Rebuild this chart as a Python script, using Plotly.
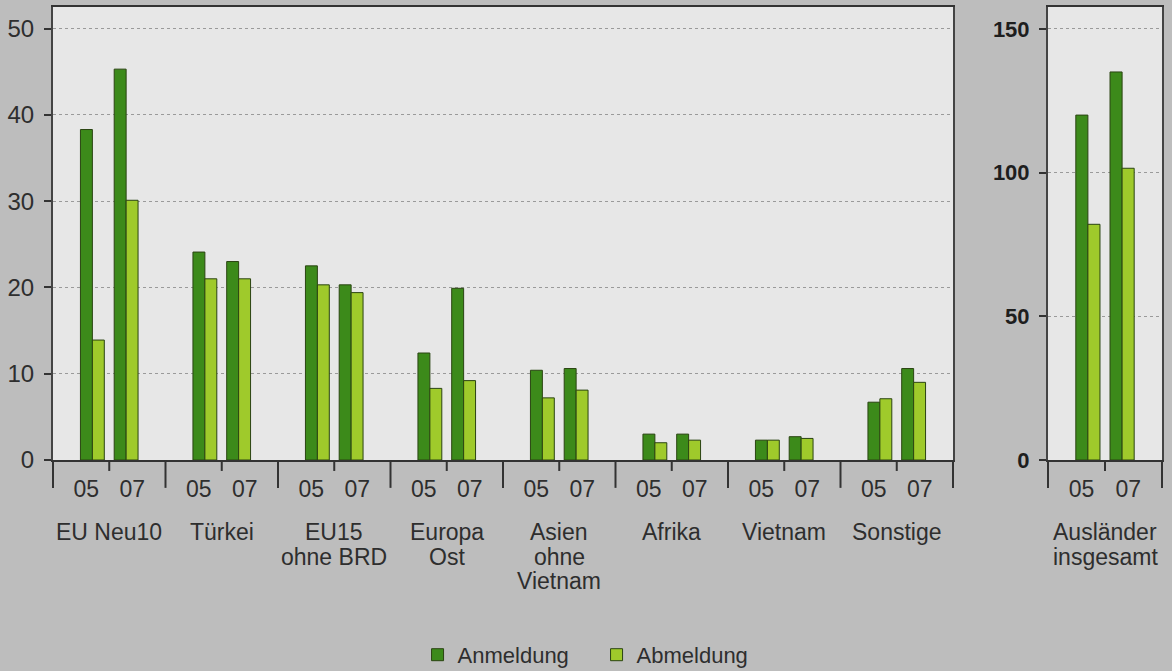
import plotly.graph_objects as go

# ---------------- data ----------------
groups = ["EU Neu10", "Türkei", "EU15<br>ohne BRD", "Europa<br>Ost",
          "Asien<br>ohne<br>Vietnam", "Afrika", "Vietnam", "Sonstige"]
years = ["05", "07"]
anm_05 = [38.3, 24.1, 22.5, 12.4, 10.4, 3.0, 2.3, 6.7]
anm_07 = [45.3, 23.0, 20.3, 19.9, 10.6, 3.0, 2.7, 10.6]
abm_05 = [13.9, 21.0, 20.3, 8.3, 7.2, 2.0, 2.3, 7.1]
abm_07 = [30.1, 21.0, 19.4, 9.2, 8.1, 2.3, 2.5, 9.0]

total_label = "Ausländer<br>insgesamt"
total_anm = [120.0, 135.0]   # 05, 07
total_abm = [82.0, 101.5]

series_names = ["Anmeldung", "Abmeldung"]
y_ticks_left = [0, 10, 20, 30, 40, 50]
y_ticks_right = [0, 50, 100, 150]

# ---------------- style ----------------
C_ANM = "#3c8a1a"
C_ABM = "#9fca2b"
C_EDGE = "#2a4412"
TXT = "#2e2e2e"
FONT = "Liberation Sans"
FS = 23
PAIR_OFF = 0.15     # offset of each year pair from group centre (axis units)
BAR_W = 0.106       # width of a single bar (axis units)
LABEL_OFF = 0.205   # offset of 05/07 labels from group centre

n = len(groups)
fig = go.Figure()

def pair_positions(count):
    p05 = [i + 0.5 - PAIR_OFF for i in range(count)]
    p07 = [i + 0.5 + PAIR_OFF for i in range(count)]
    return p05, p07

p05, p07 = pair_positions(n)
x_left = p05 + p07
anm_left = anm_05 + anm_07
abm_left = abm_05 + abm_07

fig.add_trace(go.Bar(x=x_left, y=anm_left, width=BAR_W, offset=-BAR_W,
                     marker=dict(color=C_ANM, line=dict(color=C_EDGE, width=1)),
                     name=series_names[0], xaxis="x", yaxis="y"))
fig.add_trace(go.Bar(x=x_left, y=abm_left, width=BAR_W, offset=0,
                     marker=dict(color=C_ABM, line=dict(color=C_EDGE, width=1)),
                     name=series_names[1], xaxis="x", yaxis="y"))

t05, t07 = pair_positions(1)
fig.add_trace(go.Bar(x=t05 + t07, y=total_anm, width=BAR_W, offset=-BAR_W,
                     marker=dict(color=C_ANM, line=dict(color=C_EDGE, width=1)),
                     name=series_names[0], showlegend=False, xaxis="x2", yaxis="y2"))
fig.add_trace(go.Bar(x=t05 + t07, y=total_abm, width=BAR_W, offset=0,
                     marker=dict(color=C_ABM, line=dict(color=C_EDGE, width=1)),
                     name=series_names[1], showlegend=False, xaxis="x2", yaxis="y2"))

# ---------------- axes ----------------
W, H = 1172, 671
ML, MR, MT, MB = 53, 10, 5, 211
PW = W - ML - MR
PH = H - MT - MB
left_dom = [0, 900 / PW]
right_dom = [(1048 - ML) / PW, 1]

def year_ticks(count):
    vals, texts = [], []
    for i in range(count):
        vals += [i + 0.5 - LABEL_OFF, i + 0.5 + LABEL_OFF]
        texts += years
    return vals, texts

lv, lt = year_ticks(n)
rv, rt = year_ticks(1)

xcommon = dict(showgrid=False, zeroline=False, showline=True, linecolor="#333",
               linewidth=2, mirror=True, ticks="outside", ticklen=7,
               tickcolor="rgba(0,0,0,0)", tickfont=dict(size=FS, color=TXT, family=FONT),
               fixedrange=True)
ycommon = dict(showgrid=True, gridcolor="#9a9a9a", griddash="dot", gridwidth=1,
               zeroline=False, showline=True, linecolor="#444", linewidth=2,
               mirror=True, ticks="outside", ticklen=7, tickwidth=2, tickcolor="#333",
               ticklabelstandoff=5, fixedrange=True)

fig.update_layout(
    width=W, height=H,
    margin=dict(l=ML, r=MR, t=MT, b=MB),
    paper_bgcolor="#bdbdbd",
    plot_bgcolor="#e7e7e7",
    font=dict(family=FONT, size=FS, color=TXT),
    barmode="overlay",
    xaxis=dict(domain=left_dom, range=[0, n], tickvals=lv, ticktext=lt, **xcommon),
    xaxis2=dict(domain=right_dom, range=[0, 1], tickvals=rv, ticktext=rt,
                anchor="y2", **xcommon),
    yaxis=dict(range=[0, 52.5], tickvals=y_ticks_left,
               tickfont=dict(size=24, color=TXT, family=FONT), **ycommon),
    yaxis2=dict(range=[0, 157.6], tickvals=y_ticks_right, anchor="x2",
                tickfont=dict(size=22, color="#1e1e1e", family=FONT, weight="bold"),
                **ycommon),
    legend=dict(orientation="h", xref="container", yref="container",
                x=0.509, xanchor="center", y=0.024, yanchor="middle",
                font=dict(size=22, color=TXT, family=FONT),
                bgcolor="rgba(0,0,0,0)", itemwidth=30, entrywidth=134,
                entrywidthmode="pixels"),
    showlegend=True,
)

# ---------------- group separators / ticks ----------------
long_len = 28 / PH
short_len = 11 / PH
shapes = []
for xa, count in (("x", n), ("x2", 1)):
    for i in range(count + 1):
        shapes.append(dict(type="line", xref=f"{xa} domain", yref="y domain",
                           x0=i / count, x1=i / count, y0=0, y1=-long_len,
                           line=dict(color="#333", width=2)))
    for i in range(count):
        shapes.append(dict(type="line", xref=f"{xa} domain", yref="y domain",
                           x0=(i + 0.5) / count, x1=(i + 0.5) / count, y0=0, y1=-short_len,
                           line=dict(color="#333", width=2)))
fig.update_layout(shapes=shapes)

# ---------------- group labels (one annotation per line) ----------------
LINE_H = 25
FIRST_LINE_Y = 532
annotations = []
def add_labels(xa, labels):
    for i, lab in enumerate(labels):
        for k, line in enumerate(lab.split("<br>")):
            ypix = FIRST_LINE_Y + k * LINE_H
            annotations.append(dict(xref=xa, yref="paper", x=i + 0.5,
                                    y=-(ypix - (H - MB)) / PH, yanchor="middle",
                                    xanchor="center", showarrow=False, text=line,
                                    font=dict(size=FS, color=TXT, family=FONT)))
add_labels("x", groups)
add_labels("x2", [total_label])
fig.update_layout(annotations=annotations)

fig.write_html("out.html", config={"displayModeBar": False},
               post_script="document.body.style.margin='0px';document.body.style.padding='0px';")
